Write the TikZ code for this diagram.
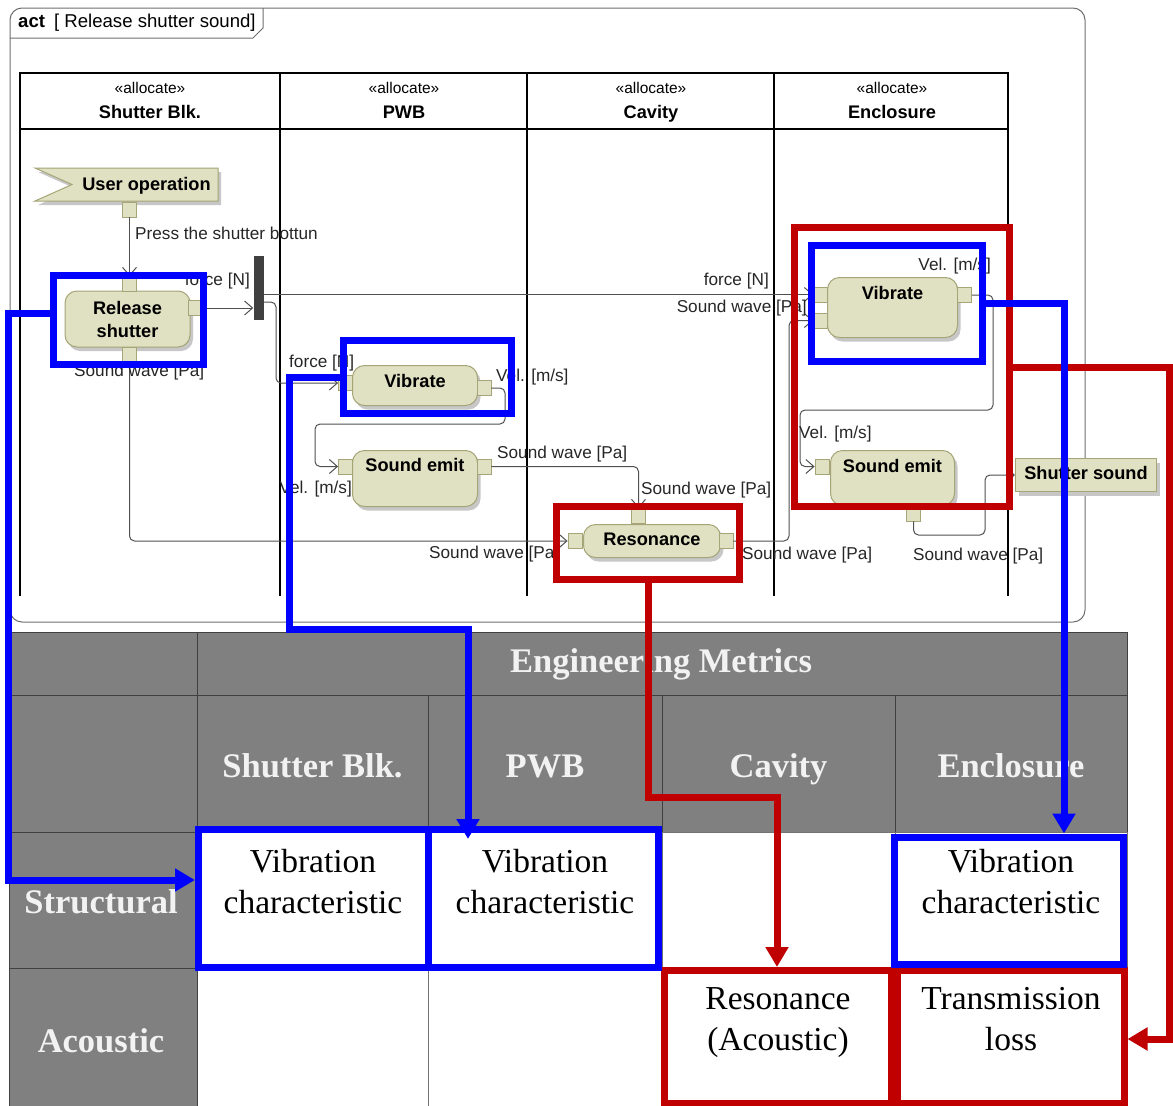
\documentclass[tikz,border=0pt]{standalone}
\usepackage{fontspec}
\setmainfont{Liberation Serif}
\setsansfont{Liberation Sans}
\usetikzlibrary{arrows.meta,shadows,positioning}

\definecolor{actfill}{HTML}{E0E0C3}
\definecolor{actline}{HTML}{A5A577}
\definecolor{flowgray}{HTML}{505050}
\definecolor{framegray}{HTML}{6E6E6E}
\definecolor{metricgray}{HTML}{808080}
\definecolor{hlblue}{HTML}{0000FF}
\definecolor{hlred}{HTML}{C00000}

\newcommand{\umlfont}{\sffamily\fontsize{17.2}{20}\selectfont}
\newcommand{\umlbold}{\sffamily\bfseries\fontsize{18.2}{23}\selectfont}
\newcommand{\umlsmall}{\sffamily\fontsize{15.5}{18}\selectfont}
\newcommand{\metricfont}{\rmfamily\fontsize{33.5}{41}\selectfont}
\newcommand{\metricbold}{\rmfamily\bfseries\fontsize{34.5}{41}\selectfont}

\tikzset{
  actnode/.style={draw=actline, fill=actfill, line width=1pt, rounded corners=12pt,
    font=\umlbold, align=center, inner sep=0pt, anchor=north west,
    drop shadow={shadow xshift=3pt, shadow yshift=-4pt, fill=black!22, opacity=1}},
  portbox/.style={draw=actline, fill=actfill, line width=0.8pt, minimum width=14pt,
    minimum height=15pt, inner sep=0pt},
  objflow/.style={draw=flowgray, line width=1pt, rounded corners=5pt,
    -{Straight Barb[length=8pt,width=14pt]}},
  flowlbl/.style={font=\umlfont, inner sep=0pt, text=black!85},
  lane/.style={line width=2.5pt, black},
  mcell/.style={draw=black!75, line width=1.2pt, fill=metricgray, inner sep=0pt, anchor=north west},
  mtext/.style={font=\metricbold, text=white!95!black, inner sep=0pt, anchor=base},
  vcell/.style={draw=black!55, line width=1pt, fill=white, inner sep=0pt, anchor=north west},
  vtext/.style={font=\metricfont, align=center, inner sep=0pt, anchor=base},
  hlbox/.style={draw=#1, line width=7pt, inner sep=0pt},
  hlarrow/.style={draw=#1, line width=7pt, -{Triangle[length=20pt,width=22pt]}}
}

\begin{document}
\begin{tikzpicture}[x=1pt,y=-1pt]
\useasboundingbox (0,0) rectangle (1173,1106);

% activity frame and swimlanes
\draw[framegray, line width=1pt, rounded corners=12pt] (10,8) rectangle (1085,622);
\draw[framegray, line width=1pt] (10,38) -- (253,38) -- (263,28) -- (263,8);
\node[anchor=base west, inner sep=0pt, font=\sffamily\fontsize{18.6}{22}\selectfont] (acttitle) at (18,27) {\textbf{act}\hspace{9pt}[ Release shutter sound]};
\draw[lane] (20,596) -- (20,73) -- (1008,73) -- (1008,596);
\draw[lane] (20,129) -- (1008,129);
\foreach \x in {280,527,774}
  \draw[lane] (\x,73) -- (\x,596);
\foreach \x/\nm in {150/Shutter Blk.,404/PWB,651/Cavity,892/Enclosure}{
  \node[font=\umlsmall, anchor=base, inner sep=0pt] (st-\x) at (\x,93) {«allocate»};
  \node[font=\umlbold, anchor=base, inner sep=0pt] (ln-\x) at (\x,118) {\nm};
}

% accept event
\fill[black!22] (38,172) -- (221,172) -- (221,205) -- (38,205) -- (75,188.5) -- cycle;
\draw[actline, fill=actfill, line width=1pt] (35,168) -- (218,168) -- (218,201) -- (35,201) -- (72,184.5) -- cycle;
\node[font=\umlbold, anchor=base, inner sep=0pt] (uo) at (146.5,190) {User operation};

% actions
\node[actnode, minimum width=125, minimum height=56, anchor=center] (rs) at (127.5,319) {Release\\shutter};
\node[actnode, minimum width=125, text height=22pt, text depth=18pt] (vp) at (352,365) {Vibrate};
\node[actnode, minimum width=125, text height=21pt, text depth=35pt] (se) at (352,450) {Sound emit};
\node[actnode, minimum width=137, text height=21pt, text depth=12pt] (re) at (583,524) {Resonance};
\node[actnode, minimum width=130, text height=22pt, text depth=38pt] (ve) at (827,277) {Vibrate};
\node[actnode, minimum width=124, text height=22pt, text depth=33pt] (sf) at (830,450) {Sound emit};
\node[actnode, rounded corners=0pt, minimum width=141, text height=21pt, text depth=12pt] (ss) at (1015,458) {Shutter sound};
\node[fill=black!75, minimum width=10, minimum height=64, inner sep=0pt] (fork) at (258.5,288) {};

% pins
\node[portbox] (uoP) at (129.5,209.5) {};
\node[portbox] (rsT) at (129.5,284) {};
\node[portbox] (rsR) at (195,308) {};
\node[portbox] (rsB) at (129.5,355) {};
\node[portbox] (vpL) at (345.5,383) {};
\node[portbox] (vpR) at (484,388) {};
\node[portbox] (seL) at (345.5,466.5) {};
\node[portbox] (seR) at (484,466.5) {};
\node[portbox] (reL) at (575,541) {};
\node[portbox] (reT) at (638.5,516) {};
\node[portbox] (reR) at (726,541) {};
\node[portbox] (veL1) at (820.5,294.5) {};
\node[portbox] (veL2) at (820.5,320.5) {};
\node[portbox] (veR) at (964.5,295) {};
\node[portbox] (sfL) at (822,466.5) {};
\node[portbox] (sfB) at (913.5,513.5) {};

% object flows
\draw[objflow] (uoP) -- (rsT);
\draw[objflow] (rsR) -- (fork.west |- rsR);
\draw[objflow] (fork.east |- veL1) -- (veL1);
\draw[objflow] (fork.east |- 0,302) -- (276,302) |- (vpL);
\draw[objflow] (rsB) |- (reL);
\draw[objflow] (vpR) -- (505,388) -- (505,424) -- (315,424) |- (seL);
\draw[objflow] (seR) -| (reT);
\draw[objflow] (reR) -- (789,541) |- (veL2);
\draw[objflow] (veR) -- (993,295) -- (993,410) -- (800,410) |- (sfL);
\draw[objflow] (sfB) -- (913.5,535) -- (985,535) |- (ss);

\node[flowlbl, anchor=base west] (lPress) at (135,239) {Press the shutter bottun};
\node[flowlbl, anchor=base east] (lForkN) at (250,285) {force [N]};
\node[flowlbl, anchor=base east] (lForceE) at (769,285) {force [N]};
\node[flowlbl, anchor=base west] (lForceP) at (289,367) {force [N]};
\node[flowlbl, anchor=base west] (lSwRs) at (74,376) {Sound wave [Pa]};
\node[flowlbl, anchor=base west] (lVelP1) at (496,381) {Vel. [m/s]};
\node[flowlbl, anchor=base east] (lVelP2) at (352,493) {Vel. [m/s]};
\node[flowlbl, anchor=base west] (lSwSe1) at (497,458) {Sound wave [Pa]};
\node[flowlbl, anchor=base west] (lSwSe2) at (641,494) {Sound wave [Pa]};
\node[flowlbl, anchor=base west] (lSwRe1) at (429,558) {Sound wave [Pa]};
\node[flowlbl, anchor=base west] (lSwRe2) at (742,559) {Sound wave [Pa]};
\node[flowlbl, anchor=base east] (lSwVe) at (807,312) {Sound wave [Pa]};
\node[flowlbl, anchor=base east] (lVelE1) at (991,270) {Vel. [m/s]};
\node[flowlbl, anchor=base west] (lVelE2) at (799,438) {Vel. [m/s]};
\node[flowlbl, anchor=base west] (lSwSf) at (913,560) {Sound wave [Pa]};

% engineering metrics table
\node[mcell, minimum width=188, minimum height=63] (corner) at (9,632) {};
\node[mcell, minimum width=930, minimum height=63] (emhead) at (197,632) {};
\node[mtext] (emtext) at (661,672) {Engineering Metrics};
\node[mcell, minimum width=188, minimum height=137] (blank) at (9,695) {};
\foreach \x/\w/\nm [count=\i] in {197/231/Shutter Blk.,428/234/PWB,662/233/Cavity,895/232/Enclosure}{
  \node[mcell, minimum width=\w, minimum height=137] (col\i) at (\x,695) {};
  \node[mtext] (coltext\i) at ({\x+\w/2},777) {\nm};
  \node[vcell, minimum width=\w, minimum height=136] (st\i) at (\x,832) {};
  \node[vcell, minimum width=\w, minimum height=138] (ac\i) at (\x,968) {};
}
\node[mcell, minimum width=188, minimum height=136] (rowst) at (9,832) {};
\node[mtext] (rowsttext) at (101,913) {Structural};
\node[mcell, minimum width=188, minimum height=138] (rowac) at (9,968) {};
\node[mtext] (rowactext) at (101,1052) {Acoustic};
% base of a two-line cell is its last line
\node[vtext] (st1text) at (313,913) {Vibration\\characteristic};
\node[vtext] (st2text) at (545,913) {Vibration\\characteristic};
\node[vtext] (st4text) at (1011,913) {Vibration\\characteristic};
\node[vtext] (ac3text) at (778,1050) {Resonance\\(Acoustic)};
\node[vtext] (ac4text) at (1011,1050) {Transmission\\loss};

% acoustic links
\node[hlbox=hlred, minimum width=183, minimum height=73] (hr1) at (648,543) {};
\node[hlbox=hlred, minimum width=215, minimum height=279] (hr2) at (902,367) {};
\node[hlbox=hlred, minimum width=227, minimum height=132.5] (tr1) at (777.5,1036.75) {};
\node[hlbox=hlred, minimum width=226.5, minimum height=132.5] (tr2) at (1010.75,1036.75) {};
\draw[hlarrow=hlred] (hr1.south) |- (777,797) -- (777,0 |- tr1.north);
\draw[hlarrow=hlred] (hr2.east) -| (1169,1039) -- (tr2.east |- 0,1039);

% structural links
\node[hlbox=hlblue, minimum width=150, minimum height=89] (hb1) at (128.5,320) {};
\node[hlbox=hlblue, minimum width=168, minimum height=73] (hb2) at (427.5,377) {};
\node[hlbox=hlblue, minimum width=171, minimum height=116] (hb3) at (897,303.5) {};
\node[hlbox=hlblue, minimum width=230, minimum height=137.5] (tb1) at (313.5,898.25) {};
\node[hlbox=hlblue, minimum width=229.5, minimum height=137.5] (tb2) at (543.25,898.25) {};
\node[hlbox=hlblue, minimum width=229, minimum height=127] (tb3) at (1009,900.5) {};
\draw[hlarrow=hlblue] (hb1.west |- 0,313) -| (8.5,880) -- (tb1.west |- 0,880);
\draw[hlarrow=hlblue, shorten >=-13pt] (hb2.west) -| (289,629) -| (468,0 |- tb2.north);
\draw[hlarrow=hlblue] (hb3.east) -| (1064,0 |- tb3.north);
\end{tikzpicture}
\end{document}
